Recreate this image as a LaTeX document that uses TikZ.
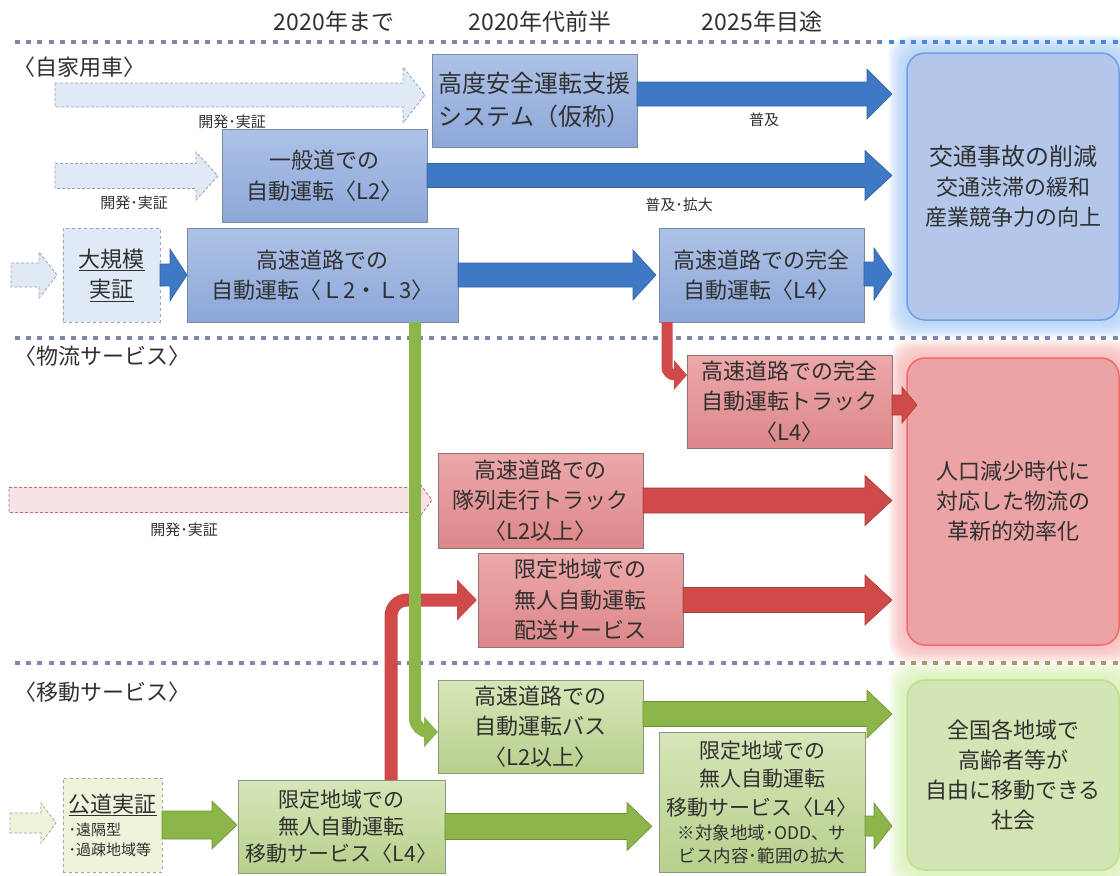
\documentclass[tikz,border=0pt]{standalone}
\usepackage{fontspec}
\setmainfont{Noto Sans CJK JP}
\usetikzlibrary{arrows.meta,calc,backgrounds}
\definecolor{txt}{HTML}{303030}
\definecolor{dotc}{HTML}{7F88A8}
\definecolor{dotblue}{HTML}{4A86DA}
\definecolor{dotmix}{HTML}{A89A6A}
\definecolor{edgeB}{HTML}{7A8AA2}
\definecolor{bxBt}{HTML}{AEC2E7}
\definecolor{bxBb}{HTML}{8CA7D8}
\definecolor{edgeR}{HTML}{8E7474}
\definecolor{bxRt}{HTML}{EDA8AA}
\definecolor{bxRb}{HTML}{DC8789}
\definecolor{edgeG}{HTML}{8C9A7C}
\definecolor{bxGt}{HTML}{D7E6B9}
\definecolor{bxGb}{HTML}{B7D08C}
\definecolor{arrB}{HTML}{3F78C4}
\definecolor{arrBe}{HTML}{35659F}
\definecolor{arrR}{HTML}{CF4A48}
\definecolor{arrRe}{HTML}{A83A3A}
\definecolor{arrG}{HTML}{8DB64A}
\definecolor{arrGe}{HTML}{6F9238}
\definecolor{devBf}{HTML}{DFEAF6}
\definecolor{devBe}{HTML}{9AA2AC}
\definecolor{devRf}{HTML}{F6E4E5}
\definecolor{devRe}{HTML}{C06A78}
\definecolor{devGf}{HTML}{EEF4DC}
\definecolor{devGe}{HTML}{A0A890}
\definecolor{outBf}{HTML}{B3C7EA}
\definecolor{outBe}{HTML}{6DA0E6}
\definecolor{glowB}{HTML}{A8CCF6}
\definecolor{outRf}{HTML}{EBA3A5}
\definecolor{outRe}{HTML}{F26A6A}
\definecolor{glowR}{HTML}{F7B0B0}
\definecolor{outGf}{HTML}{D3E5B5}
\definecolor{outGe}{HTML}{BFE08E}
\definecolor{glowG}{HTML}{D6EFAE}
\newcommand\fsz[2]{\fontsize{#1}{#2}\selectfont}
% block arrow: style, from, to, shaft half-height, head half-height, head length
\newcommand\blockarrow[6]{%
  \path[#1] let \p1=(#2), \p2=(#3) in
    (\x1,\y1+#4) -- (\x2-#6,\y1+#4) -- (\x2-#6,\y1+#5) -- (\x2,\y1)
    -- (\x2-#6,\y1-#5) -- (\x2-#6,\y1-#4) -- (\x1,\y1-#4) -- cycle;}
\begin{document}
\begin{tikzpicture}[x=1pt,y=-1pt,
  basebox/.style={anchor=north west, inner sep=0pt, outer sep=0pt, align=center,
    text=txt, font=\fsz{22}{30.5}, line width=1pt},
  bbox/.style={basebox, draw=edgeB, top color=bxBt, bottom color=bxBb},
  rbox/.style={basebox, draw=edgeR, top color=bxRt, bottom color=bxRb},
  gbox/.style={basebox, draw=edgeG, top color=bxGt, bottom color=bxGb},
  dbbox/.style={basebox, draw=devBe, fill=devBf, dashed, line width=0.8pt},
  dgbox/.style={basebox, draw=devGe, fill=devGf, dashed, line width=0.8pt},
  outbox/.style={basebox, rounded corners=18pt, line width=1.5pt, font=\fsz{22}{30}},
  hdr/.style={text=txt, font=\fsz{23}{26}, inner sep=0pt},
  sec/.style={text=txt, font=\fsz{22}{26}, inner sep=0pt, anchor=west},
  lbl/.style={text=txt, font=\fsz{15}{18}, inner sep=0pt},
  dotline/.style={line width=4.5pt, dash pattern=on 5pt off 6.2pt},
  aB/.style={fill=arrB, draw=arrBe, line width=0.6pt},
  aR/.style={fill=arrR, draw=arrRe, line width=0.6pt},
  aG/.style={fill=arrG, draw=arrGe, line width=0.6pt},
  dB/.style={fill=devBf, draw=devBe, line width=0.8pt, dash pattern=on 3pt off 2pt},
  dR/.style={fill=devRf, draw=devRe, line width=0.9pt, dash pattern=on 3pt off 2pt},
  dG/.style={fill=devGf, draw=devGe, line width=0.8pt, dash pattern=on 3pt off 2pt},
  elbowR/.style={draw=arrR, rounded corners=16pt},
  elbowG/.style={draw=arrG, rounded corners=14pt},
]
\useasboundingbox (0,0) rectangle (1120,876);

% ---------- headers ----------
\node[hdr] (h1) at (334,22) {2020年まで};
\node[hdr] (h2) at (540,22) {2020年代前半};
\node[hdr] (h3) at (762,22) {2025年目途};

% ---------- section labels ----------
\node[sec] (s1) at (13,67) {〈自家用車〉};
\node[sec] (s2) at (14,356) {〈物流サービス〉};
\node[sec] (s3) at (14,692) {〈移動サービス〉};

% ---------- outcome boxes ----------
\node[outbox, draw=outBe, fill=outBf, minimum width=212pt, minimum height=267pt] (outB) at (907,53)
  {\fsz{24}{32}交通事故の削減\\交通渋滞の緩和\\産業競争力の向上};
\node[outbox, draw=outRe, fill=outRf, minimum width=212pt, minimum height=287pt] (outR) at (907,358)
  {人口減少時代に\\対応した物流の\\革新的効率化};
\node[outbox, draw=outGe, fill=outGf, minimum width=212pt, minimum height=190pt] (outG) at (907,680)
  {全国各地域で\\高齢者等が\\自由に移動できる\\社会};
\begin{pgfonlayer}{background}
  \foreach \g in {18,16,...,2} {
    \fill[glowB, opacity=0.16, rounded corners=20pt] ([shift={(-\g pt,\g pt)}]outB.north west) rectangle ([shift={(\g pt,-\g pt)}]outB.south east);
    \fill[glowR, opacity=0.16, rounded corners=20pt] ([shift={(-\g pt,\g pt)}]outR.north west) rectangle ([shift={(\g pt,-\g pt)}]outR.south east);
    \fill[glowG, opacity=0.16, rounded corners=20pt] ([shift={(-\g pt,\g pt)}]outG.north west) rectangle ([shift={(\g pt,-\g pt)}]outG.south east);
  }
\end{pgfonlayer}

% ---------- dotted separators ----------
\draw[dotline, dotc] (15,42) -- (1120,42);
\draw[dotline, dotc] (15,338) -- (1120,338);
\draw[dotline, dotc] (15,663) -- (1120,663);
\begin{scope}
  \clip (880,0) rectangle (1120,60);
  \draw[dotline, dotblue] (15,42) -- (1120,42);
\end{scope}
\begin{scope}
  \clip (900,640) rectangle (1120,690);
  \draw[dotline, dotmix] (15,663) -- (1120,663);
\end{scope}

% ---------- blue (private cars) boxes ----------
\node[bbox, font=\fsz{24}{33}, minimum width=205pt, minimum height=93pt] (sys) at (432,54)
  {高度安全運転支援\\システム（仮称）};
\node[bbox, minimum width=205pt, minimum height=93pt] (ippan) at (222,129)
  {一般道での\\自動運転〈L2〉};
\node[dbbox, minimum width=97pt, minimum height=94pt] (daiki) at (63,228)
  {\underline{大規模}\\\underline{実証}};
\node[bbox, minimum width=271pt, minimum height=94pt] (l23) at (187,228)
  {高速道路での\\自動運転〈Ｌ2・Ｌ3〉};
\node[bbox, minimum width=205pt, minimum height=94pt] (l4b) at (659,228)
  {高速道路での完全\\自動運転〈L4〉};

% ---------- red (logistics) boxes ----------
\node[rbox, minimum width=205pt, minimum height=93pt] (truck) at (687,355)
  {高速道路での完全\\自動運転トラック\\〈L4〉};
\node[rbox, minimum width=205pt, minimum height=95pt] (platoon) at (438,453)
  {高速道路での\\隊列走行トラック\\〈L2以上〉};
\node[rbox, minimum width=205pt, minimum height=94pt] (haiso) at (478,553)
  {限定地域での\\無人自動運転\\配送サービス};

% ---------- green (mobility) boxes ----------
\node[gbox, minimum width=205pt, minimum height=93pt] (bus) at (438,680)
  {高速道路での\\自動運転バス\\〈L2以上〉};
\node[gbox, font=\fsz{21}{28.5}, minimum width=206pt, minimum height=140pt] (gl4b) at (659,732)
  {限定地域での\\無人自動運転\\移動サービス〈L4〉\\[-4pt]{\fsz{17.5}{22}※対象地域･ODD、サ}\\[-6pt]{\fsz{17.5}{22}ビス内容･範囲の拡大}};
\node[dgbox, align=left, font=\fsz{15}{21}, minimum width=99pt, minimum height=94pt] (koudou) at (63,778)
  {{\fsz{22}{26}\underline{公道実証}}\\[2pt]･遠隔型\\[-1pt]･過疎地域等};
\node[gbox, font=\fsz{21}{27}, minimum width=207pt, minimum height=93pt] (gl4a) at (238,780)
  {限定地域での\\無人自動運転\\移動サービス〈L4〉};

% ---------- development arrows (light) ----------
\coordinate (d1) at (55,95);
\coordinate (d2) at (55,176);
\coordinate (d3) at (11,275);
\coordinate (d4) at (9,500);
\coordinate (d5) at (10,823);
\blockarrow{dB}{d1}{[xshift=-7pt]sys.west}{12pt}{28pt}{22pt}
\blockarrow{dB}{d2}{[xshift=-4pt]ippan.west}{12.5pt}{24pt}{22pt}
\blockarrow{dB}{d3}{[xshift=-6pt]daiki.west}{12pt}{23pt}{18pt}
\blockarrow{dR}{d4}{[xshift=-6pt]platoon.west}{12.5pt}{16pt}{12pt}
\blockarrow{dG}{d5}{[xshift=-7pt]koudou.west}{10pt}{20pt}{15pt}
\node[lbl] (lb1) at (232,122) {開発･実証};
\node[lbl] (lb2) at (134,203) {開発･実証};
\node[lbl] (lb3) at (184,530) {開発･実証};

% ---------- blue arrows ----------
\blockarrow{aB}{[yshift=6.5pt]sys.east}{[xshift=-15pt]outB.west}{12pt}{25pt}{25pt}
\blockarrow{aB}{ippan.east}{[xshift=-15pt]outB.west}{12pt}{25pt}{27pt}
\blockarrow{aB}{daiki.east}{l23.west}{11pt}{26pt}{17pt}
\blockarrow{aB}{l23.east}{[xshift=-3pt]l4b.west}{12pt}{25pt}{23pt}
\blockarrow{aB}{[yshift=1pt]l4b.east}{[xshift=-15pt]outB.west}{12pt}{26pt}{18pt}
\node[lbl] (lb4) at (764,120) {普及};
\node[lbl] (lb5) at (679,205) {普及･拡大};

% ---------- red arrows ----------
\blockarrow{aR}{[yshift=-3.5pt]truck.east}{[xshift=10pt]outR.west}{10pt}{18pt}{15pt}
\blockarrow{aR}{platoon.east}{[xshift=-15pt]outR.west}{12.5pt}{25pt}{27pt}
\blockarrow{aR}{haiso.east}{[xshift=-15pt]outR.west}{12.5pt}{25pt}{27pt}
\draw[elbowR, line width=11pt, rounded corners=8pt, -{Triangle[length=13pt,width=29pt]}]
  ([xshift=8pt]l4b.south west) |- ([yshift=26.5pt]truck.west);
\draw[elbowR, line width=13pt, -{Triangle[length=20pt,width=40pt]}]
  ([xshift=49.5pt]gl4a.north) |- ([xshift=-1pt]haiso.west);

% ---------- green arrows ----------
\blockarrow{aG}{[yshift=12.5pt]bus.east}{[xshift=-15pt]outG.west}{12.5pt}{24pt}{25pt}
\blockarrow{aG}{[yshift=-24pt]gl4b.east}{[xshift=-15pt]outG.west}{10pt}{23pt}{18pt}
\blockarrow{aG}{gl4a.east}{[xshift=-7pt]gl4b.west}{13pt}{24pt}{25pt}
\blockarrow{aG}{koudou.east}{[xshift=-1pt]gl4a.west}{14pt}{24pt}{25pt}
\draw[elbowG, line width=12pt, -{Triangle[length=14pt,width=30pt]}]
  ([xshift=92.5pt]l23.south) |- ([yshift=-5.5pt]bus.west);
\end{tikzpicture}
\end{document}
